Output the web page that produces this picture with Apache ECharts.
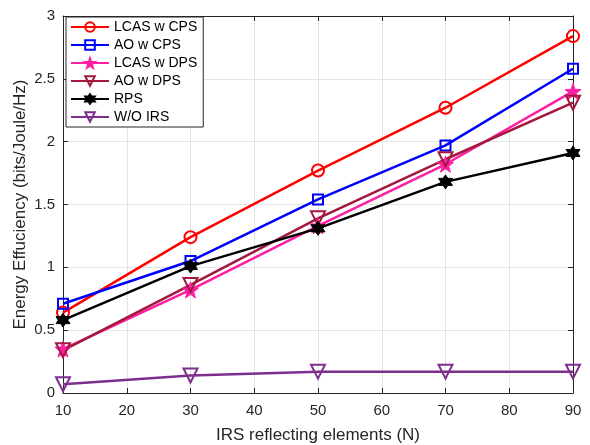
<!DOCTYPE html>
<html>
<head>
<meta charset="utf-8">
<script src="https://cdn.jsdelivr.net/npm/echarts@6/dist/echarts.min.js"></script>
<style>
  html, body { margin: 0; padding: 0; background: #fff; }
  #chart { width: 590px; height: 445px; }
</style>
</head>
<body>
<div id="chart"></div>
<script>
// Number of IRS reflecting elements
const elements = [10, 30, 50, 70, 90];

// Energy efficiency (bits/Joule/Hz) per scheme
const lcasCps = [0.64, 1.24, 1.77, 2.27, 2.84];
const aoCps   = [0.71, 1.05, 1.54, 1.97, 2.58];
const lcasDps = [0.35, 0.82, 1.33, 1.82, 2.40];
const aoDps   = [0.34, 0.86, 1.39, 1.86, 2.31];
const rps     = [0.58, 1.01, 1.31, 1.68, 1.91];
const noIrs   = [0.07, 0.14, 0.17, 0.17, 0.17];

const yTicks = [0, 0.5, 1, 1.5, 2, 2.5, 3];

// marker shapes
function starPath(points, rOuter, rInner) {
  let d = '';
  const n = points * 2;
  for (let i = 0; i < n; i++) {
    const r = i % 2 === 0 ? rOuter : rInner;
    const a = -Math.PI / 2 + i * Math.PI / points;
    const x = (50 + r * Math.cos(a)).toFixed(2);
    const y = (50 + r * Math.sin(a)).toFixed(2);
    d += (i === 0 ? 'M' : 'L') + x + ',' + y + ' ';
  }
  return 'path://' + d + 'Z';
}
const pentagram = starPath(5, 50, 20);
const hexagram = starPath(6, 50, 29);
const triDown = 'path://M0,0 L10,0 L5,8.66 Z';

const axisColor = '#262626';
const gridColor = '#e3e3e3';

function mk(name, data, color, symbol, size, filled) {
  return {
    name: name,
    type: 'line',
    data: elements.map((x, i) => [x, data[i]]),
    symbol: symbol,
    symbolSize: size,
    showAllSymbol: true,
    lineStyle: { color: color, width: 2.5 },
    itemStyle: {
      color: filled ? color : 'rgba(255,255,255,0)',
      borderColor: color,
      borderWidth: filled ? 1 : 2
    },
    emphasis: { disabled: true },
    animation: false
  };
}

const series = [
  mk('LCAS w CPS', lcasCps, '#ff0000', 'circle', 12, false),
  mk('AO w CPS', aoCps, '#0000ff', 'rect', 10, false),
  mk('LCAS w DPS', lcasDps, '#ff1fa5', pentagram, 16, true),
  mk('AO w DPS', aoDps, '#a3193d', triDown, 14, false),
  mk('RPS', rps, '#000000', hexagram, 14, true),
  mk('W/O IRS', noIrs, '#7e2f8e', triDown, 14, false)
];

const chart = echarts.init(document.getElementById('chart'), null, { renderer: 'canvas' });
chart.setOption({
  animation: false,
  backgroundColor: '#fff',
  textStyle: { fontFamily: 'Liberation Sans, Arial, sans-serif' },
  grid: { left: 63, right: 17, top: 16, bottom: 52, containLabel: false, outerBoundsMode: 'none' },
  legend: {
    orient: 'vertical',
    left: 66,
    top: 17,
    itemWidth: 38,
    itemHeight: 12,
    itemGap: 4,
    padding: [3, 6, 3, 4],
    backgroundColor: '#fff',
    borderColor: '#262626',
    borderWidth: 1,
    borderRadius: 0,
    textStyle: { fontSize: 14, color: '#000', fontFamily: 'Liberation Sans, Arial, sans-serif' },
    data: series.map(s => s.name)
  },
  xAxis: [{
    type: 'value', min: 10, max: 90, interval: 10,
    name: 'IRS reflecting elements (N)',
    nameLocation: 'middle', nameGap: 34, nameMoveOverlap: false,
    nameTextStyle: { fontSize: 17, color: '#262626' },
    axisLine: { show: true, lineStyle: { color: axisColor, width: 1 } },
    axisTick: { show: true, inside: true, length: 5, lineStyle: { color: axisColor } },
    axisLabel: { fontSize: 15, color: '#262626', margin: 10 },
    splitLine: { show: true, lineStyle: { color: gridColor, width: 1 } }
  }, {
    type: 'value', min: 10, max: 90, interval: 10, position: 'top',
    axisLine: { show: true, onZero: false, lineStyle: { color: axisColor, width: 1 } },
    axisTick: { show: true, inside: true, length: 5, lineStyle: { color: axisColor } },
    axisLabel: { show: false },
    splitLine: { show: false }
  }],
  yAxis: [{
    type: 'value', min: 0, max: 3, interval: 0.5,
    name: 'Energy Effuciency (bits/Joule/Hz)',
    nameLocation: 'middle', nameGap: 34, nameMoveOverlap: false,
    nameTextStyle: { fontSize: 17, color: '#262626' },
    axisLine: { show: true, lineStyle: { color: axisColor, width: 1 } },
    axisTick: { show: true, inside: true, length: 5, lineStyle: { color: axisColor } },
    axisLabel: {
      fontSize: 15, color: '#262626', margin: 8,
      formatter: v => {
        const t = yTicks.find(k => Math.abs(k - v) < 1e-9);
        return t === undefined ? '' : String(t);
      }
    },
    splitLine: { show: true, lineStyle: { color: gridColor, width: 1 } }
  }, {
    type: 'value', min: 0, max: 3, interval: 0.5, position: 'right',
    axisLine: { show: true, onZero: false, lineStyle: { color: axisColor, width: 1 } },
    axisTick: { show: true, inside: true, length: 5, lineStyle: { color: axisColor } },
    axisLabel: { show: false },
    splitLine: { show: false }
  }],
  series: series
});
</script>
</body>
</html>
